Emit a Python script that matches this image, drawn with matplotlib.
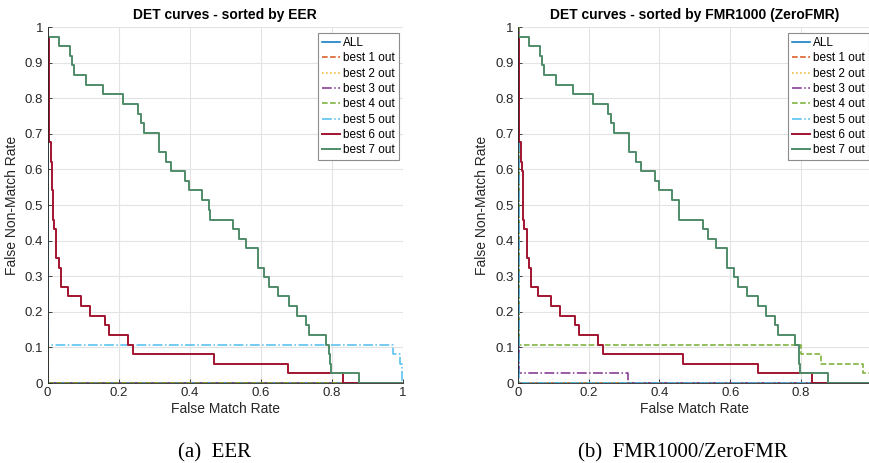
import matplotlib
matplotlib.use("Agg")
import matplotlib.pyplot as plt

plt.rcParams['font.family'] = ['Liberation Sans', 'DejaVu Sans']

# ==================================================
# Data
# ==================================================

labels = ["ALL", "best 1 out", "best 2 out", "best 3 out",
          "best 4 out", "best 5 out", "best 6 out", "best 7 out"]
colors = ["#0072BD", "#D95319", "#EDB120", "#7E2F8E",
          "#77AC30", "#4DBEEE", "#A2142F", "#4F8B69"]
styles = ["-", "--", ":", "-.", "--", "-.", "-", "-"]
widths = [1.1, 1.1, 1.1, 1.1, 1.1, 1.1, 1.4, 1.4]

# curves that sit on the axes (FMR=0 line then FNMR=0 line)
axis_fmr = [0.0, 0.0, 1.0]
axis_fnmr = [1.0, 0.0, 0.0]

# best 7 out (same in both panels)
b7_fmr = [0.0, 0.0, 0.032, 0.062, 0.068, 0.075, 0.107, 0.155, 0.213, 0.255,
          0.264, 0.272, 0.313, 0.315, 0.333, 0.347, 0.388, 0.399, 0.435, 0.455,
          0.456, 0.523, 0.538, 0.559, 0.591, 0.592, 0.610, 0.622, 0.647, 0.679,
          0.702, 0.726, 0.736, 0.783, 0.793, 0.795, 0.798, 0.875, 1.0]
b7_fnmr = [1.0, 0.973, 0.946, 0.919, 0.892, 0.865, 0.838, 0.811, 0.784, 0.757,
           0.730, 0.703, 0.676, 0.649, 0.622, 0.595, 0.568, 0.541, 0.514, 0.486,
           0.459, 0.432, 0.405, 0.378, 0.351, 0.324, 0.297, 0.270, 0.243, 0.216,
           0.189, 0.162, 0.135, 0.108, 0.081, 0.054, 0.027, 0.0, 0.0]

# best 6 out (same in both panels)
b6_fmr = [0.003, 0.004, 0.010, 0.010, 0.013, 0.014, 0.014, 0.015, 0.015, 0.016,
          0.019, 0.025, 0.025, 0.025, 0.032, 0.037, 0.037, 0.058, 0.093, 0.119,
          0.161, 0.172, 0.227, 0.241, 0.467, 0.677, 0.830, 1.0]
b6_fnmr = [0.973, 0.676, 0.649, 0.622, 0.595, 0.568, 0.541, 0.514, 0.486, 0.459,
           0.432, 0.405, 0.378, 0.351, 0.324, 0.297, 0.270, 0.243, 0.216, 0.189,
           0.162, 0.135, 0.108, 0.081, 0.054, 0.027, 0.0, 0.0]

# EER panel: best 5 out
eer_b5_fmr = [0.0, 0.0, 0.973, 0.992, 0.997]
eer_b5_fnmr = [0.676, 0.108, 0.081, 0.054, 0.0]

# FMR1000 panel: best 3, 4, 5 out
fmr_b3_fmr = [0.0, 0.004, 0.310, 1.0]
fmr_b3_fnmr = [1.0, 0.027, 0.0, 0.0]
fmr_b4_fmr = [0.0, 0.004, 0.800, 0.856, 0.976, 1.0]
fmr_b4_fnmr = [1.0, 0.108, 0.081, 0.054, 0.027, 0.027]
fmr_b5_fmr = [0.004, 0.004, 1.0]
fmr_b5_fnmr = [0.676, 0.0, 0.0]

panels = [
    dict(title="DET curves - sorted by EER", caption="(a)  EER",
         curves=[(axis_fmr, axis_fnmr)] * 5 + [(eer_b5_fmr, eer_b5_fnmr),
                 (b6_fmr, b6_fnmr), (b7_fmr, b7_fnmr)],
         xticks=[0, 0.2, 0.4, 0.6, 0.8, 1.0],
         xticklabels=["0", "0.2", "0.4", "0.6", "0.8", "1"]),
    dict(title="DET curves - sorted by FMR1000 (ZeroFMR)",
         caption="(b)  FMR1000/ZeroFMR",
         curves=[(axis_fmr, axis_fnmr)] * 3 + [(fmr_b3_fmr, fmr_b3_fnmr),
                 (fmr_b4_fmr, fmr_b4_fnmr), (fmr_b5_fmr, fmr_b5_fnmr),
                 (b6_fmr, b6_fnmr), (b7_fmr, b7_fnmr)],
         xticks=[0, 0.2, 0.4, 0.6, 0.8],
         xticklabels=["0", "0.2", "0.4", "0.6", "0.8"]),
]

yticks = [0, 0.1, 0.2, 0.3, 0.4, 0.5, 0.6, 0.7, 0.8, 0.9, 1.0]
yticklabels = ["0", "0.1", "0.2", "0.3", "0.4", "0.5", "0.6", "0.7", "0.8", "0.9", "1"]

# ==================================================
# Plot
# ==================================================

W, H = 869, 463
fig = plt.figure(figsize=(W / 100, H / 100), dpi=100)

ax_px = [(47.5, 27, 355.5, 356), (517.7, 27, 354.3, 356)]
legend_px = [(318, 33), (788, 33)]
caption_x = [215, 683]

for p, (x0, y0, w, h), (lx, ly), cx in zip(panels, ax_px, legend_px, caption_x):
    ax = fig.add_axes([x0 / W, 1 - (y0 + h) / H, w / W, h / H])
    for (xs, ys), lab, c, ls, lw in zip(p["curves"], labels, colors, styles, widths):
        ax.plot(xs, ys, drawstyle="steps-post", color=c, linestyle=ls,
                linewidth=lw, label=lab)

    ax.set_xlim(0, 1)
    ax.set_ylim(0, 1)
    ax.set_xticks(p["xticks"])
    ax.set_xticklabels(p["xticklabels"])
    ax.set_yticks(yticks)
    ax.set_yticklabels(yticklabels)
    ax.grid(True, color="#e3e3e3", linewidth=0.8)
    ax.set_axisbelow(True)
    for side in ["top", "right"]:
        ax.spines[side].set_visible(False)
    for side in ["left", "bottom"]:
        ax.spines[side].set_color("#262626")
        ax.spines[side].set_linewidth(0.6)
    ax.tick_params(direction="in", length=3, width=0.6, colors="#262626",
                   labelsize=9.5, pad=3)
    ax.set_xlabel("False Match Rate", fontsize=10, color="#262626", labelpad=2)
    ax.set_ylabel("False Non-Match Rate", fontsize=10, color="#262626", labelpad=4)
    ax.set_title(p["title"], fontsize=10, fontweight="bold", pad=6)

    leg = ax.legend(loc="upper left",
                    bbox_to_anchor=(lx / W, 1 - ly / H),
                    bbox_transform=fig.transFigure,
                    fontsize=8.5, frameon=True, fancybox=False,
                    edgecolor="#8c8c8c", framealpha=1.0,
                    handlelength=1.55, handletextpad=0.25,
                    labelspacing=0.28, borderpad=0.35, borderaxespad=0)
    leg.get_frame().set_linewidth(0.8)

    fig.text(cx / W, 1 - 453 / H, p["caption"], ha="center", va="center",
             fontsize=15, family=["Liberation Serif", "DejaVu Serif"])

fig.savefig("out.png", dpi=100)
